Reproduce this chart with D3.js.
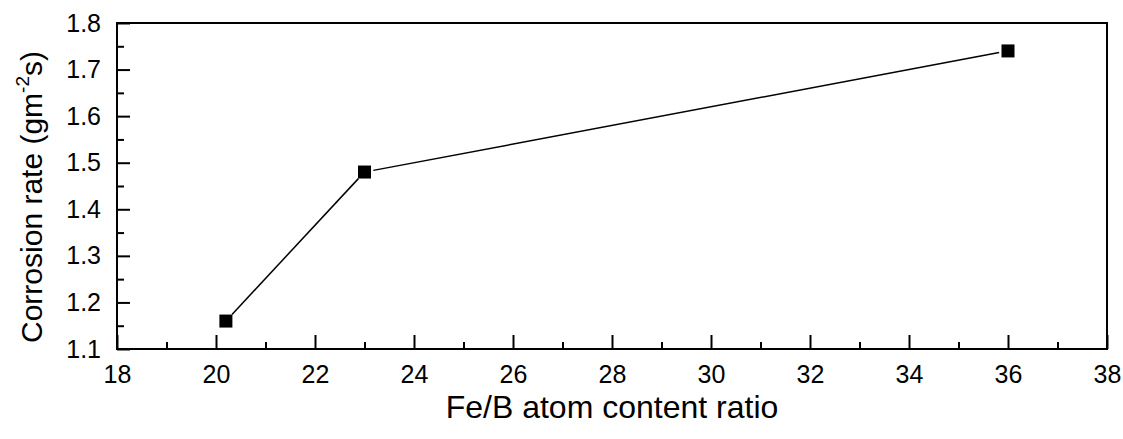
<!DOCTYPE html>
<html>
<head>
<meta charset="utf-8">
<script src="https://cdn.jsdelivr.net/npm/d3@7"></script>
<style>
  body { margin: 0; background: #fff; }
  text { font-family: "Liberation Sans", Arial, sans-serif; fill: #000; }
</style>
</head>
<body>
<svg id="chart" width="1123" height="439"></svg>
<script>
// data
const ratio = [20.2, 23.0, 36.0];
const rate = [1.16, 1.48, 1.74];
const xTicks = [18, 20, 22, 24, 26, 28, 30, 32, 34, 36, 38];
const yTicks = [1.1, 1.2, 1.3, 1.4, 1.5, 1.6, 1.7, 1.8];

const svg = d3.select("#chart");
const plotLeft = 117, plotRight = 1107, plotTop = 23, plotBottom = 349;

// scales
const x = d3.scaleLinear().domain([18, 38]).range([plotLeft, plotRight]);
const y = d3.scaleLinear().domain([1.1, 1.8]).range([plotBottom, plotTop]);

// minor ticks sit half way between majors
const xMinor = d3.range(19, 38, 2);
const yMinor = d3.range(1.15, 1.8, 0.1);

// x axis, ticks pointing in
const xAxis = svg.append("g")
    .attr("transform", `translate(0,${plotBottom})`)
    .call(d3.axisBottom(x).tickValues(xTicks).tickSize(-14).tickPadding(16).tickFormat(d3.format("d")));
xAxis.select(".domain").remove();
xAxis.selectAll("text").attr("font-size", 25);
xAxis.selectAll("line").attr("stroke-width", 2);
svg.append("g")
    .attr("transform", `translate(0,${plotBottom})`)
    .call(d3.axisBottom(x).tickValues(xMinor).tickSize(-7).tickFormat(""))
    .call(g => g.select(".domain").remove())
    .selectAll("line").attr("stroke-width", 2);

// y axis
const yAxis = svg.append("g")
    .attr("transform", `translate(${plotLeft},0)`)
    .call(d3.axisLeft(y).tickValues(yTicks).tickSize(-13).tickPadding(16).tickFormat(d3.format(".1f")));
yAxis.select(".domain").remove();
yAxis.selectAll("text").attr("font-size", 25);
yAxis.selectAll("line").attr("stroke-width", 2);
svg.append("g")
    .attr("transform", `translate(${plotLeft},0)`)
    .call(d3.axisLeft(y).tickValues(yMinor).tickSize(-7).tickFormat(""))
    .call(g => g.select(".domain").remove())
    .selectAll("line").attr("stroke-width", 2);

// frame
svg.append("rect")
    .attr("x", plotLeft).attr("y", plotTop)
    .attr("width", plotRight - plotLeft).attr("height", plotBottom - plotTop)
    .attr("fill", "none").attr("stroke", "#000").attr("stroke-width", 2);

// connecting line, stopped short of the markers
const pts = ratio.map((d, i) => [x(d), y(rate[i])]);
const gap = 9;
for (let i = 0; i < pts.length - 1; i++) {
  const [x0, y0] = pts[i], [x1, y1] = pts[i + 1];
  const len = Math.hypot(x1 - x0, y1 - y0);
  const ux = (x1 - x0) / len, uy = (y1 - y0) / len;
  svg.append("line")
      .attr("x1", x0 + ux * gap).attr("y1", y0 + uy * gap)
      .attr("x2", x1 - ux * gap).attr("y2", y1 - uy * gap)
      .attr("stroke", "#000").attr("stroke-width", 1.5);
}

// square markers
const sz = 13;
svg.selectAll(".pt")
    .data(pts)
    .enter()
    .append("rect")
    .attr("class", "pt")
    .attr("x", d => d[0] - sz / 2)
    .attr("y", d => d[1] - sz / 2)
    .attr("width", sz).attr("height", sz)
    .attr("fill", "#000");

// axis titles
svg.append("text")
    .attr("x", (plotLeft + plotRight) / 2).attr("y", 418)
    .attr("text-anchor", "middle").attr("font-size", 32)
    .text("Fe/B atom content ratio");

const yt = svg.append("text")
    .attr("transform", `translate(42,197) rotate(-90)`)
    .attr("text-anchor", "middle").attr("font-size", 30);
yt.append("tspan").text("Corrosion rate (gm");
yt.append("tspan").attr("font-size", 19).attr("dy", -13).text("-2");
yt.append("tspan").attr("dy", 13).text("s)");
</script>
</body>
</html>
